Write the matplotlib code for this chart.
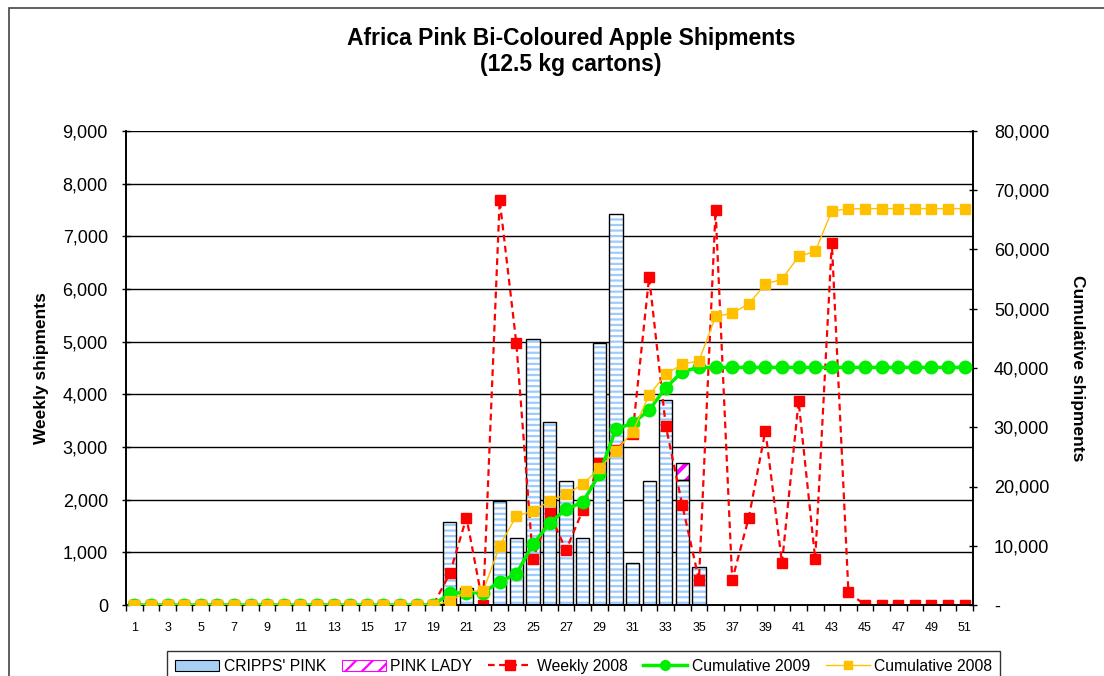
import numpy as np
import matplotlib.pyplot as plt
from matplotlib.patches import Rectangle, Patch
from matplotlib.lines import Line2D
from matplotlib.ticker import FuncFormatter

plt.rcParams['font.family'] = ['Liberation Sans', 'DejaVu Sans']
plt.rcParams['hatch.linewidth'] = 1.6

weeks = np.arange(1, 52)

# weekly 2009 bars (weeks 20-35, rest zero)
cripps_pink = [0]*19 + [1580, 330, 0, 1970, 1270, 5050, 3480, 2360, 1270, 4980,
                        7420, 790, 2360, 3890, 2370, 715] + [0]*16
pink_lady = [0]*33 + [330] + [0]*17

weekly_2008 = [0]*19 + [600, 1660, 0, 7690, 4980, 870, 1740, 1040, 1800, 2690,
                        2950, 3250, 6230, 3400, 1890, 475, 7500, 475, 1660, 3310,
                        800, 3870, 870, 6880, 240] + [0]*7

cum_2009 = [0]*19 + [1970, 2100, 2080, 3940, 5230, 10240, 13780, 16200, 17330, 22050,
                     29700, 30660, 32900, 36680, 39380] + [40100]*17

cum_2008 = [0]*19 + [600, 2300, 2300, 10000, 15000, 15850, 17550, 18650, 20380, 23070,
                     26000, 29200, 35450, 38930, 40650, 41200, 48700, 49230, 50850, 54150,
                     55000, 58830, 59680, 66500, 66850] + [66900]*7

fig = plt.figure(figsize=(11.04, 6.76), dpi=100)
fig.patches.append(Rectangle((9/1104, -0.1), 1.2, 1.1 - 8/676, transform=fig.transFigure,
                             fill=False, edgecolor='#444444', linewidth=1.2))

ax = fig.add_axes([126/1104, 1 - 605/676, 847/1104, 474/676])
ax2 = ax.twinx()

# bars: striped fill then black outline
ax.bar(weeks, cripps_pink, width=0.8, color='white', edgecolor='#9ccbff', hatch='---', linewidth=0, zorder=2)
ax.bar(weeks, cripps_pink, width=0.8, fill=False, edgecolor='black', linewidth=1.0, zorder=3)
with plt.rc_context({'hatch.linewidth': 3.0}):
    ax.bar(weeks, pink_lady, width=0.8, bottom=cripps_pink, color='white', edgecolor='#ff00ff',
           hatch='//', linewidth=0, zorder=2)
ax.bar(weeks, pink_lady, width=0.8, bottom=cripps_pink, fill=False,
       edgecolor=['black' if v > 0 else 'none' for v in pink_lady], linewidth=1.0, zorder=3)

ax.plot(weeks, weekly_2008, color='#ff0000', linestyle='--', dashes=(3, 2), linewidth=1.6,
        marker='s', markersize=7, zorder=5)

ax2.plot(weeks, cum_2009, color='#00ee00', linewidth=2.5, marker='o', markersize=9, zorder=4)
ax2.plot(weeks, cum_2008, color='#ffc000', linewidth=1.0, marker='s', markersize=7, zorder=5)

ax.set_xlim(0.5, 51.5)
ax.set_ylim(0, 9000)
ax2.set_ylim(0, 80000)
ax.set_yticks(np.arange(0, 9001, 1000))
ax2.set_yticks(np.arange(0, 80001, 10000))
ax.yaxis.set_major_formatter(FuncFormatter(lambda v, p: f'{int(v):,}'))
ax2.yaxis.set_major_formatter(FuncFormatter(lambda v, p: '-' if v == 0 else f'{int(v):,}'))
ax.grid(axis='y', color='black', linewidth=1.0, zorder=0)
ax.set_axisbelow(True)

ax.set_xticks(np.arange(0.5, 52, 1))
ax.set_xticklabels([])
ax.set_xticks(np.arange(1, 52, 2), minor=True)
ax.set_xticklabels([str(w) for w in range(1, 52, 2)], minor=True, fontsize=9)
ax.tick_params(axis='x', which='major', length=4, direction='out', width=1)
ax.tick_params(axis='x', which='minor', length=0, pad=12)
ax.tick_params(axis='y', labelsize=13, length=6, direction='inout', width=1, pad=10)
ax2.tick_params(axis='y', labelsize=13, length=6, direction='inout', width=1, pad=12)

for a in (ax, ax2):
    a.spines['top'].set_visible(False)
    for s in a.spines.values():
        s.set_linewidth(1.2)

ax.set_ylabel('Weekly shipments', fontsize=12.5, fontweight='bold', labelpad=10)
ax2.set_ylabel('Cumulative shipments', fontsize=12.5, fontweight='bold', rotation=270, labelpad=26)

fig.text(571/1104, 1 - 38/676, 'Africa Pink Bi-Coloured Apple Shipments', ha='center', va='center',
         fontsize=16.5, fontweight='bold')
fig.text(571/1104, 1 - 65/676, '(12.5 kg cartons)', ha='center', va='center',
         fontsize=16.5, fontweight='bold')

handles = [
    Patch(facecolor='#a8d0f5', edgecolor='black', linewidth=0.8),
    Patch(facecolor='white', edgecolor='#ff00ff', hatch='//', linewidth=0.8),
    Line2D([], [], color='#ff0000', linestyle='--', dashes=(3, 2), linewidth=1.6, marker='s', markersize=7),
    Line2D([], [], color='#00ee00', linewidth=2.5, marker='o', markersize=7),
    Line2D([], [], color='#ffc000', linewidth=1.0, marker='s', markersize=6),
]
labels = ["CRIPPS' PINK", 'PINK LADY', 'Weekly 2008', 'Cumulative 2009', 'Cumulative 2008']
leg = fig.legend(handles, labels, loc='upper left', bbox_to_anchor=(167/1104, 1 - 651/676),
                 ncol=5, frameon=True, fancybox=False, edgecolor='black',
                 fontsize=11.3, handlelength=2.8, columnspacing=1.0, handletextpad=0.3,
                 borderpad=0.5, borderaxespad=0)
leg.get_frame().set_linewidth(1.0)

fig.savefig('out.png', dpi=100)
